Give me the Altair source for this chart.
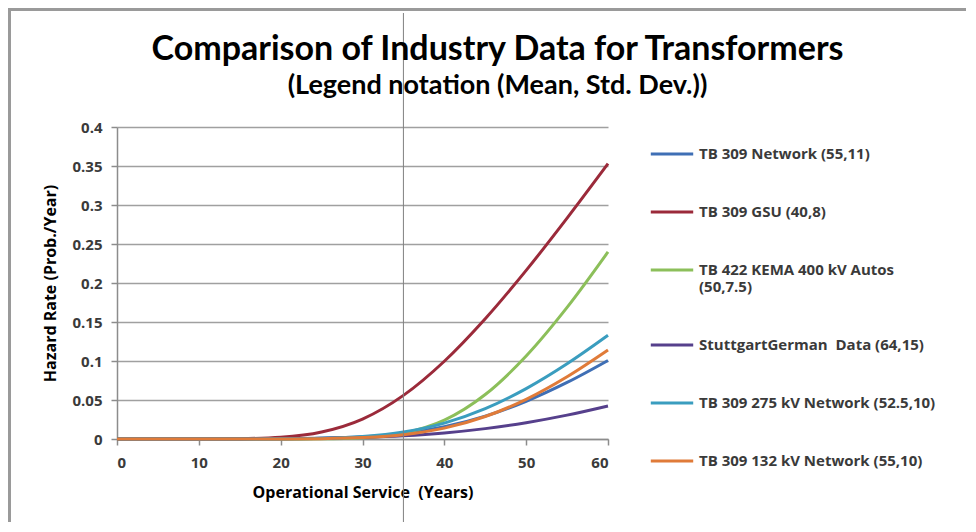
import altair as alt
import pandas as pd

years = [0, 5, 10, 15, 20, 25, 30, 35, 40, 45, 50, 55, 60]
series_names = [
    "TB 309 Network (55,11)",
    "TB 309 GSU (40,8)",
    "TB 422 KEMA 400 kV Autos|(50,7.5)",
    "StuttgartGerman  Data  (64,15)",
    "TB 309 275 kV Network (52.5,10)",
    "TB 309 132 kV Network (55,10)",
]
tb309_network = [0, 0, 0, 0.0000, 0.0002, 0.0009, 0.0028, 0.0072, 0.0157, 0.0293, 0.0484, 0.0725, 0.1007]
tb309_gsu = [0, 0, 0.0000, 0.0004, 0.0022, 0.0089, 0.0255, 0.0559, 0.0997, 0.1542, 0.2162, 0.2832, 0.3530]
kema_autos = [0, 0, 0, 0, 0.0000, 0.0002, 0.0015, 0.0074, 0.0241, 0.0570, 0.1064, 0.1687, 0.2398]
stuttgart = [0, 0, 0.0000, 0.0001, 0.0004, 0.0009, 0.0021, 0.0042, 0.0078, 0.0133, 0.0209, 0.0306, 0.0424]
tb309_275 = [0, 0, 0, 0, 0.0002, 0.0009, 0.0032, 0.0090, 0.0204, 0.0389, 0.0646, 0.0964, 0.1329]
tb309_132 = [0, 0, 0, 0, 0.0000, 0.0004, 0.0018, 0.0055, 0.0139, 0.0288, 0.0509, 0.0798, 0.1141]
colors = ["#3F6FB5", "#9B2A3A", "#8CBF5A", "#56408C", "#3A9DBF", "#E07B39"]
y_ticks = [0, 0.05, 0.1, 0.15, 0.2, 0.25, 0.3, 0.35, 0.4]
x_ticks = [0, 10, 20, 30, 40, 50, 60]
marker_year = [35]

all_series = [tb309_network, tb309_gsu, kema_autos, stuttgart, tb309_275, tb309_132]
rows = []
for i, (name, vals) in enumerate(zip(series_names, all_series)):
    for x, v in zip(years, vals):
        rows.append({"year": x, "rate": v, "series": name, "order": i})
df = pd.DataFrame(rows)

TFONT = "Lato"
FONT = "Open Sans"
W, H = 491, 312

lines = alt.Chart(df).mark_line(strokeWidth=3, interpolate="monotone").encode(
    x=alt.X("year:Q", scale=alt.Scale(domain=[0, 60], nice=False),
            axis=alt.Axis(values=x_ticks, title="Operational Service \u00a0(Years)", grid=False,
                          tickSize=6, labelPadding=10, titlePadding=14)),
    y=alt.Y("rate:Q", scale=alt.Scale(domain=[0, 0.4], nice=False),
            axis=alt.Axis(values=y_ticks, format=".2~f", title="Hazard Rate (Prob./Year)",
                          tickSize=6, labelPadding=9, titlePadding=13)),
    color=alt.Color("series:N", sort=series_names,
                    scale=alt.Scale(domain=series_names, range=colors),
                    legend=alt.Legend(title=None, orient="none", legendX=532, legendY=4,
                                      symbolType="stroke", symbolStrokeWidth=3, symbolSize=1800,
                                      labelExpr="split(replace(datum.label, '  ', ' \u00a0'), '|')",
                                      labelFont=FONT, labelFontSize=15, labelFontWeight="bold",
                                      labelColor="#3a3a3a", labelLimit=320, labelOffset=4,
                                      rowPadding=27)),
    order="order:Q",
)

vline = alt.Chart(pd.DataFrame({"x": marker_year})).mark_rule(color="#808080", strokeWidth=1).encode(
    x="x:Q", y=alt.value(-114), y2=alt.value(H + 90)
)

frame_left = alt.Chart(pd.DataFrame({"x": [0]})).mark_rule(color="#9a9a9a", strokeWidth=3).encode(
    x=alt.value(-107.5), y=alt.value(-119), y2=alt.value(H + 85)
)
frame_top = alt.Chart(pd.DataFrame({"x": [0]})).mark_rule(color="#9a9a9a", strokeWidth=3).encode(
    x=alt.value(-109), x2=alt.value(W + 360), y=alt.value(-117.5)
)

chart = alt.layer(lines, vline, frame_left, frame_top).properties(
    width=W, height=H,
    autosize=alt.AutoSizeParams(type="none"),
    padding={"left": 109, "top": 119, "right": 358, "bottom": 83},
    title=alt.TitleParams(
        text="Comparison of Industry Data for Transformers",
        subtitle="(Legend notation (Mean, Std. Dev.))",
        font=TFONT, fontSize=34, fontWeight="bold", color="#000000",
        subtitleFont=TFONT, subtitleFontSize=27, subtitleFontWeight="bold", subtitleColor="#000000",
        subtitlePadding=6, anchor="middle", dx=135, offset=0, dy=92,
    ),
).configure_view(stroke=None).configure_axis(
    labelFont=FONT, labelFontSize=15, labelFontWeight="bold", labelColor="#3a3a3a",
    titleFont=FONT, titleFontSize=16, titleFontWeight="bold", titleColor="#000000",
    domainColor="#8c8c8c", domainWidth=1.5, tickColor="#8c8c8c", tickWidth=1.5,
    gridColor="#a0a0a0", gridWidth=1.5,
)

chart.save("out.html", embed_options={"renderer": "svg", "actions": False})
